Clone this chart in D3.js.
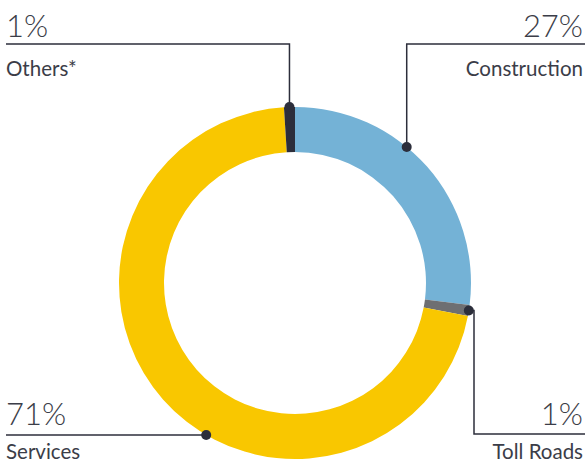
<!DOCTYPE html>
<html><head><meta charset="utf-8">
<script src="https://cdn.jsdelivr.net/npm/d3@7"></script>
<style>html,body{margin:0;padding:0;background:#fff;}svg{display:block;}</style>
</head><body><svg id="c" width="585" height="464"></svg>
<script>
const categories = ["Construction", "Toll Roads", "Services", "Others*"];
const values = [27, 1, 71, 1];
const pctLabels = ["27%", "1%", "71%", "1%"];
const colors = ["#74b2d6", "#6e6f72", "#f9c700", "#2c2e3b"];
// angle (degrees, clockwise from top) where each leader meets the ring
const dotAngles = [39.4, 99, 210.3, 358.2];

const W = 585, H = 464;
const cx = 295, cy = 283, R = 176, r = 131;
const ink = "#2c2e3b", txt = "#3b3d48";
const svg = d3.select("#c");
const g = svg.append("g").attr("transform", `translate(${cx},${cy})`);
const pie = d3.pie().sort(null).value(d => d)(values);
const arc = d3.arc().innerRadius(r).outerRadius(R);
g.selectAll("path.seg").data(pie).join("path").attr("class","seg")
  .attr("d", arc).attr("fill", (d,i) => colors[i]);

const toRad = a => a * Math.PI / 180;
const dot = i => {
  const a = toRad(dotAngles[i]);
  return [cx + R * Math.sin(a), cy - R * Math.cos(a)];
};

const paths = [
  p => `M${p[0]},${p[1]}V44H${W}`,
  p => `M${p[0]},${p[1]}H474V434H${W}`,
  p => `M${p[0]},435H6`,
  p => `M${p[0]},${p[1]}V44H6`
];
// labels: [x, anchor, pctBaseline, nameBaseline]
const lab = [
  [583, "end", 37, 76],
  [583, "end", 425, 459],
  [6, "start", 425, 459],
  [6, "start", 37, 76]
];
categories.forEach((c, i) => {
  const p = dot(i);
  svg.append("path").attr("d", paths[i](p))
    .attr("fill","none").attr("stroke", ink).attr("stroke-width", 1.5);
});
categories.forEach((c, i) => {
  const p = dot(i);
  svg.append("circle").attr("cx", p[0]).attr("cy", i===2 ? 435 : p[1]).attr("r", 5).attr("fill", ink);
  svg.append("text").attr("x", lab[i][0]).attr("y", lab[i][2]).attr("text-anchor", lab[i][1])
    .attr("font-family","Lato").attr("font-weight",300).attr("font-size",31).attr("fill", txt).text(pctLabels[i]);
  svg.append("text").attr("x", lab[i][0]).attr("y", lab[i][3]).attr("text-anchor", lab[i][1])
    .attr("font-family","Lato").attr("font-size",20.5).attr("fill", txt).text(c);
});
</script></body></html>
